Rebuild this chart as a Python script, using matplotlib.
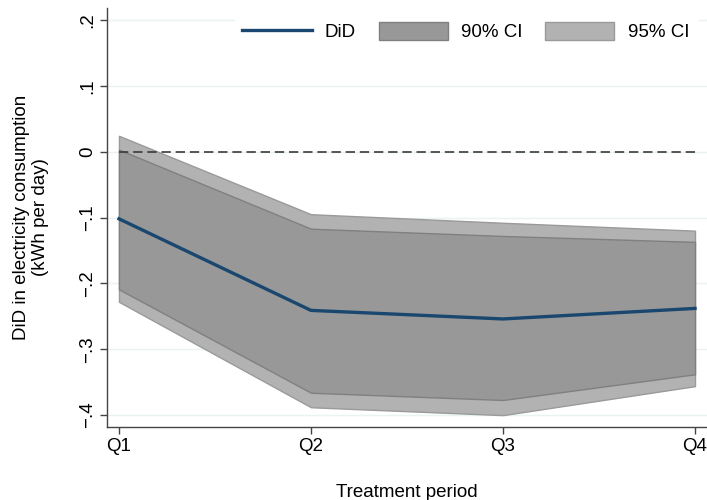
import matplotlib
matplotlib.use("Agg")
import matplotlib.pyplot as plt
import numpy as np
from matplotlib.patches import Patch
from matplotlib.lines import Line2D

plt.rcParams['font.family'] = ['Liberation Sans', 'DejaVu Sans']
plt.rcParams['font.size'] = 13.5

quarters = ["Q1", "Q2", "Q3", "Q4"]
did = [-0.102, -0.241, -0.254, -0.238]
ci90_hi = [0.003, -0.117, -0.128, -0.137]
ci90_lo = [-0.209, -0.366, -0.377, -0.338]
ci95_hi = [0.024, -0.095, -0.108, -0.120]
ci95_lo = [-0.228, -0.388, -0.400, -0.356]
yticks = [-0.4, -0.3, -0.2, -0.1, 0, 0.1, 0.2]
ytick_labels = ["\u2212.4", "\u2212.3", "\u2212.2", "\u2212.1", "0", ".1", ".2"]

x = np.arange(1, len(quarters) + 1)

fig = plt.figure(figsize=(7.07, 5.0), dpi=100)
ax = fig.add_axes([0.1513, 0.146, 0.8487, 0.838])

for yt in yticks:
    ax.axhline(yt, color='#eaf2f3', lw=1.0, zorder=0)

ax.fill_between(x, ci95_lo, ci95_hi, facecolor='#b2b2b2', edgecolor='#9a9a9a',
                lw=1.0, zorder=1)
ax.fill_between(x, ci90_lo, ci90_hi, facecolor='#989898', edgecolor='#808080',
                lw=1.0, zorder=2)
ax.plot([x[0], x[-1]], [0, 0], color='#3a3a3a', lw=1.2, ls=(0, (5.6, 2.9)), zorder=3)
ax.plot(x, did, color='#1a476f', lw=2.4, zorder=4)

ax.set_xlim(0.9375, 4.0625)
ax.set_ylim(-0.418, 0.218)
ax.set_xticks(x)
ax.set_xticklabels(quarters)
ax.set_yticks(yticks)
ax.set_yticklabels(ytick_labels, rotation=90, va='center')

for s in ['top', 'right']:
    ax.spines[s].set_visible(False)
for s in ['left', 'bottom']:
    ax.spines[s].set_color('#444444')
    ax.spines[s].set_linewidth(1.0)
ax.tick_params(axis='both', direction='out', length=5, width=1.0,
               color='#444444', labelcolor='black')
ax.tick_params(axis='y', pad=3)
ax.tick_params(axis='x', pad=3)

ax.set_xlabel("Treatment period")
ax.xaxis.set_label_coords(0.5, -0.135)
ax.set_ylabel("DiD in electricity consumption\n(kWh per day)", linespacing=1.15)
ax.yaxis.set_label_coords(-0.097, 0.5)

handles = [
    Line2D([], [], color='#1a476f', lw=2.4),
    Patch(facecolor='#989898', edgecolor='#808080', lw=1.0),
    Patch(facecolor='#b2b2b2', edgecolor='#9a9a9a', lw=1.0),
]
leg = ax.legend(handles, ["DiD", "90% CI", "95% CI"], ncol=3, loc='center',
                bbox_to_anchor=(0.598, 0.943), frameon=True, fancybox=False,
                edgecolor='white', facecolor='white', framealpha=1.0,
                handlelength=3.7, handleheight=1.07, handletextpad=0.7,
                columnspacing=1.2, borderpad=0.4)
leg.set_zorder(5)

fig.savefig("out.png", dpi=100)
